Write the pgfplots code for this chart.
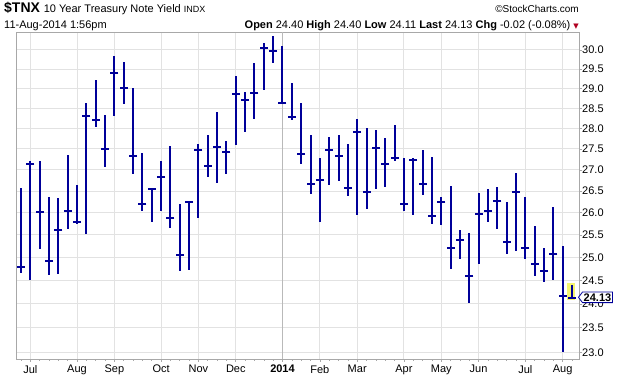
\documentclass[border=0pt]{standalone}
\usepackage{pgfplots}
\usepackage{pgfplotstable}
\pgfplotsset{compat=1.18}
\usepackage{fontspec}
\setmainfont{Liberation Sans}
\newfontfamily\dejavu{DejaVu Sans}
\definecolor{barblue}{HTML}{000099}
\definecolor{gridgray}{HTML}{E2E2E2}
\definecolor{axgray}{HTML}{A8A8A8}
\definecolor{hl}{HTML}{F5F56E}
\definecolor{dnred}{HTML}{B00020}

\pgfplotstableread{
i h l c
0 26.57 24.66 24.79
1 27.22 24.50 27.15
2 27.22 25.18 26.01
3 26.36 24.61 24.92
4 26.34 24.64 25.62
5 27.36 25.63 26.03
6 26.64 25.75 25.80
7 28.64 25.51 28.30
8 29.21 28.03 28.21
9 28.32 27.06 27.49
10 29.84 28.31 29.39
11 29.69 28.61 29.01
12 29.00 26.91 27.32
13 27.39 26.03 26.19
14 26.57 25.80 26.54
15 27.22 26.05 26.82
16 27.58 25.65 25.89
17 26.21 24.70 25.05
18 26.28 24.73 26.25
19 27.63 25.87 27.47
20 27.83 26.84 27.10
21 28.40 26.68 27.54
22 27.70 26.91 27.42
23 29.33 27.59 28.86
24 28.91 27.91 28.71
25 29.66 28.23 28.89
26 30.18 28.96 30.06
27 30.37 29.65 29.96
28 30.11 28.60 28.63
29 29.13 28.20 28.28
30 28.63 27.15 27.37
31 27.83 26.44 26.67
32 27.27 25.78 26.75
33 27.78 26.65 27.47
34 27.83 26.73 27.34
35 27.63 26.38 26.58
36 28.23 25.94 27.91
37 28.02 26.08 26.47
38 27.95 26.56 27.52
39 27.77 26.59 27.13
40 28.09 27.20 27.27
41 27.29 26.05 26.19
42 27.27 25.94 27.23
43 27.48 26.42 26.67
44 27.31 25.75 25.92
45 26.37 25.72 26.24
46 26.62 24.74 25.20
47 25.61 24.96 25.38
48 25.55 24.02 24.59
49 26.45 24.86 25.98
50 26.55 25.79 26.05
51 26.60 25.63 26.26
52 26.25 25.08 25.35
53 26.92 25.15 26.48
54 26.36 24.96 25.20
55 25.69 24.59 24.85
56 25.21 24.47 24.71
57 26.14 24.51 25.07
58 25.26 23.00 24.16
59 24.40 24.11 24.13
}\tnx

\begin{document}
\begin{tikzpicture}[x=1pt,y=1pt]
\useasboundingbox (0,0) rectangle (620,376);
\begin{axis}[
  at={(16pt,17pt)}, anchor=south west,
  scale only axis, width=563pt, height=327pt,
  ymode=log, ymin=22.865, ymax=30.478,
  xmin=-0.535, xmax=59.75,
  axis line style={axgray, line width=0.8pt},
  ytick={23,23.5,24,24.5,25,25.5,26,26.5,27,27.5,28,28.5,29,29.5,30},
  yticklabels={23.0,23.5,24.0,24.5,25.0,25.5,26.0,26.5,27.0,27.5,28.0,28.5,29.0,29.5,30.0},
  ytick pos=right, yticklabel pos=right,
  xtick={1,6,10,15,19,23,32,36,41,45,49,54,58},
  xticklabels={Jul,Aug,Sep,Oct,Nov,Dec,Feb,Mar,Apr,May,Jun,Jul,Aug},
  extra x ticks={28}, extra x tick labels={\textbf{2014}},
  extra x tick style={grid=major, major grid style={color=gray!55, line width=0.9pt}},
  minor xtick={0,1,...,59},
  xtick pos=left,
  tick align=outside,
  major tick length=3pt, minor tick length=2pt,
  tick style={axgray, line width=0.6pt},
  grid=major, major grid style={gridgray, line width=0.9pt},
  ticklabel style={font=\fontsize{11}{13}\selectfont},
  yticklabel style={anchor=west, inner sep=0pt, xshift=0pt},
  xticklabel style={anchor=north, inner sep=0pt, yshift=-3pt},
  clip=false,
]
\fill[hl] (axis cs:58.43,24.08) rectangle (axis cs:59.35,24.44);
\addplot[barblue, only marks, mark=-, mark size=4pt, mark options={line width=2pt},
  error bars/.cd, y dir=both, y explicit, error mark=none,
  error bar style={line width=2pt, barblue}]
  table[x=i, y=c, y error plus expr=\thisrow{h}-\thisrow{c}, y error minus expr=\thisrow{c}-\thisrow{l}] {\tnx};
\end{axis}
\node[anchor=base west, inner sep=0pt] at (4,363) {\fontsize{14}{16}\selectfont\bfseries \$TNX\ \mdseries\fontsize{11}{13}\selectfont 10 Year Treasury Note Yield \fontsize{9}{11}\selectfont INDX};
\node[anchor=base east, inner sep=0pt] at (579,363) {\fontsize{10}{12}\selectfont ©StockCharts.com};
\node[anchor=base west, inner sep=0pt] at (4,348) {\fontsize{11}{13}\selectfont 11-Aug-2014 1:56pm};
\node[anchor=base east, inner sep=0pt] at (579,348) {\fontsize{11}{13}\selectfont \textbf{Open} 24.40 \textbf{High} 24.40 \textbf{Low} 24.11 \textbf{Last} 24.13 \textbf{Chg} -0.02 (-0.08\%) {\color{dnred}\dejavu\fontsize{7}{8}\selectfont ▼}};
\draw[barblue, line width=0.8pt, fill=white] (578.5,78.7) -- (582.5,84) -- (612.5,84) -- (612.5,73.4) -- (582.5,73.4) -- cycle;
\node[anchor=center, inner sep=0pt] at (597.5,78.7) {\fontsize{11}{13}\selectfont\bfseries 24.13};
\end{tikzpicture}
\end{document}
